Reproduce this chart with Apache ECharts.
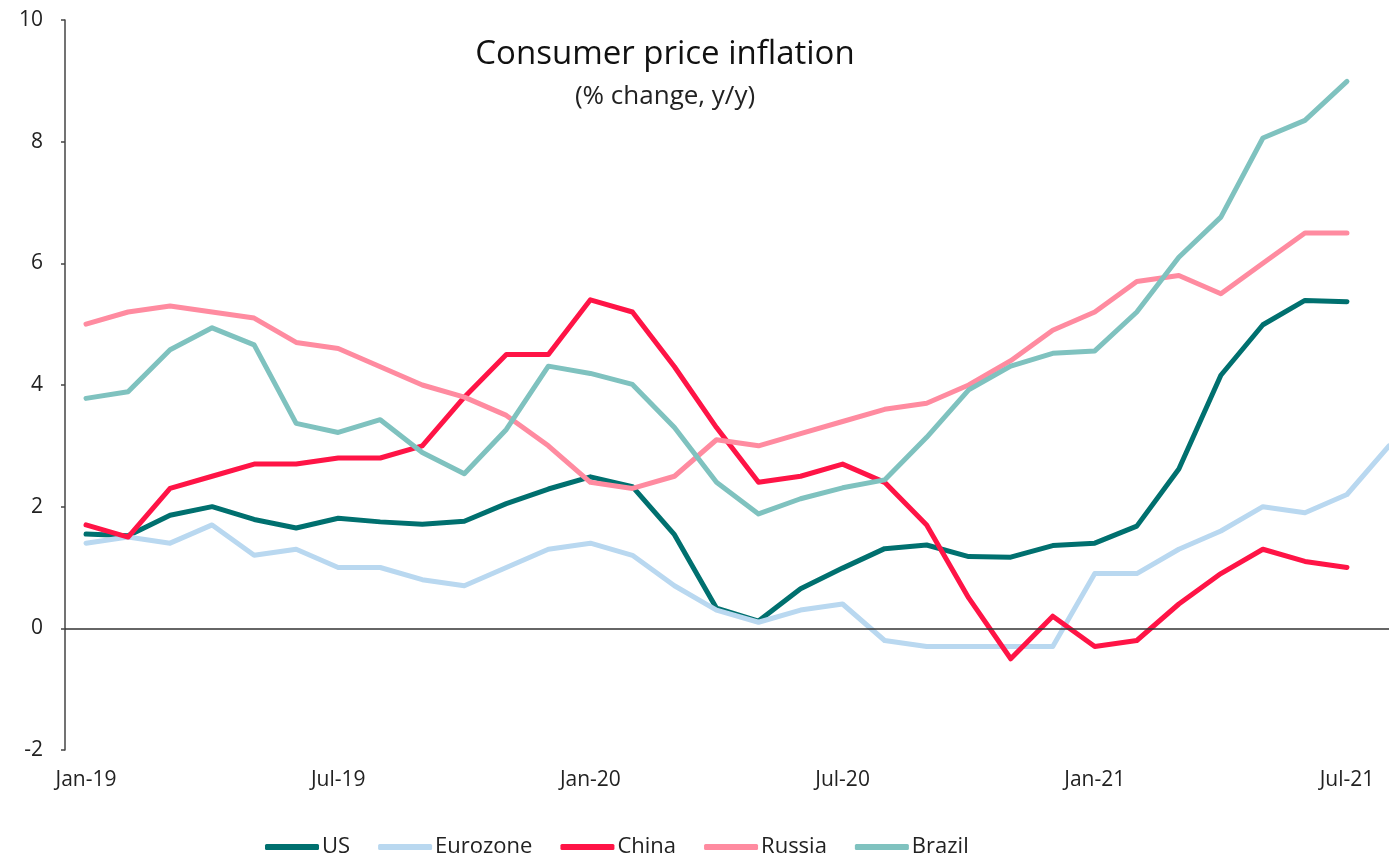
<!DOCTYPE html>
<html>
<head>
<meta charset="utf-8">
<script src="https://cdn.jsdelivr.net/npm/echarts@6/dist/echarts.min.js"></script>
<style>
  html, body { margin: 0; padding: 0; background: #fff; }
  #chart { width: 1389px; height: 857px; }
</style>
</head>
<body>
<div id="chart"></div>
<script>
// 月份（Jan-19 ~ Aug-21）
const months = [
  "Jan-19", "Feb-19", "Mar-19", "Apr-19", "May-19", "Jun-19",
  "Jul-19", "Aug-19", "Sep-19", "Oct-19", "Nov-19", "Dec-19",
  "Jan-20", "Feb-20", "Mar-20", "Apr-20", "May-20", "Jun-20",
  "Jul-20", "Aug-20", "Sep-20", "Oct-20", "Nov-20", "Dec-20",
  "Jan-21", "Feb-21", "Mar-21", "Apr-21", "May-21", "Jun-21",
  "Jul-21", "Aug-21"
];
// x轴显示的标签位置（每6个月）
const labelMonths = [0, 6, 12, 18, 24, 30];

const usData = [
  1.55, 1.52, 1.86, 2.0, 1.79, 1.65, 1.81, 1.75, 1.71, 1.76, 2.05, 2.29,
  2.49, 2.33, 1.54, 0.33, 0.12, 0.65, 0.99, 1.31, 1.37, 1.18, 1.17, 1.36,
  1.4, 1.68, 2.62, 4.16, 4.99, 5.39, 5.37, null
];
const eurozoneData = [
  1.4, 1.5, 1.4, 1.7, 1.2, 1.3, 1.0, 1.0, 0.8, 0.7, 1.0, 1.3,
  1.4, 1.2, 0.7, 0.3, 0.1, 0.3, 0.4, -0.2, -0.3, -0.3, -0.3, -0.3,
  0.9, 0.9, 1.3, 1.6, 2.0, 1.9, 2.2, 3.0
];
const chinaData = [
  1.7, 1.5, 2.3, 2.5, 2.7, 2.7, 2.8, 2.8, 3.0, 3.8, 4.5, 4.5,
  5.4, 5.2, 4.3, 3.3, 2.4, 2.5, 2.7, 2.4, 1.7, 0.5, -0.5, 0.2,
  -0.3, -0.2, 0.4, 0.9, 1.3, 1.1, 1.0, null
];
const russiaData = [
  5.0, 5.2, 5.3, 5.2, 5.1, 4.7, 4.6, 4.3, 4.0, 3.8, 3.5, 3.0,
  2.4, 2.3, 2.5, 3.1, 3.0, 3.2, 3.4, 3.6, 3.7, 4.0, 4.4, 4.9,
  5.2, 5.7, 5.8, 5.5, 6.0, 6.5, 6.5, null
];
const brazilData = [
  3.78, 3.89, 4.58, 4.94, 4.66, 3.37, 3.22, 3.43, 2.89, 2.54, 3.27, 4.31,
  4.19, 4.01, 3.3, 2.4, 1.88, 2.13, 2.31, 2.44, 3.14, 3.92, 4.31, 4.52,
  4.56, 5.2, 6.1, 6.76, 8.06, 8.35, 8.99, null
];

const seriesNames = ["US", "Eurozone", "China", "Russia", "Brazil"];
const seriesColors = ["#00706f", "#b9d8f0", "#ff1446", "#ff8ba0", "#7fc2bf"];
const seriesData = [usData, eurozoneData, chinaData, russiaData, brazilData];

const fontFamily = "'Open Sans', sans-serif";

let chart = echarts.init(document.getElementById("chart"), null, { renderer: "canvas" });

let series = [];
for (let i = 0; i < seriesNames.length; i++) {
  let s = {
    name: seriesNames[i],
    type: "line",
    // [月份序号, 数值]
    data: seriesData[i].map((v, j) => [j, v]),
    symbol: "none",
    smooth: false,
    lineStyle: {
      width: 5,
      color: seriesColors[i],
      cap: "round",
      join: "round"
    },
    itemStyle: { color: seriesColors[i] }
  };
  // 0 基准线
  if (i === 0) {
    s.markLine = {
      silent: true,
      symbol: "none",
      label: { show: false },
      lineStyle: { color: "#333", width: 1.5, type: "solid" },
      data: [{ yAxis: 0 }]
    };
  }
  series.push(s);
}

let option = {
  animation: false,
  title: {
    text: "Consumer price inflation",
    subtext: "(% change, y/y)",
    left: 660,
    top: 33,
    textAlign: "center",
    itemGap: 13,
    textStyle: {
      fontFamily: fontFamily,
      fontSize: 33,
      fontWeight: 500,
      color: "#111"
    },
    subtextStyle: {
      fontFamily: fontFamily,
      fontSize: 26,
      color: "#222"
    }
  },
  legend: {
    left: 260,
    top: 831,
    icon: "roundRect",
    itemWidth: 54,
    itemHeight: 6,
    itemGap: 28,
    textStyle: {
      fontFamily: fontFamily,
      fontSize: 22,
      color: "#222",
      padding: [0, 0, 0, -2]
    },
    data: seriesNames
  },
  grid: {
    left: 65,
    right: 0,
    top: 20,
    bottom: 107,
    containLabel: false
  },
  xAxis: {
    type: "value",
    min: -0.5,
    max: 31,
    axisLine: { show: false, onZero: false },
    axisTick: { show: false },
    splitLine: { show: false },
    axisLabel: {
      customValues: labelMonths,
      formatter: (value) => months[Math.round(value)],
      margin: 20,
      fontFamily: fontFamily,
      fontSize: 21,
      color: "#222"
    }
  },
  yAxis: {
    type: "value",
    min: -2,
    max: 10,
    interval: 2,
    axisLine: { show: true, onZero: false, lineStyle: { color: "#444", width: 1.5 } },
    axisTick: { show: true, length: 4, lineStyle: { color: "#444", width: 1.5 } },
    splitLine: { show: false },
    axisLabel: {
      margin: 22,
      fontFamily: fontFamily,
      fontSize: 21,
      color: "#222"
    }
  },
  series: series
};

chart.setOption(option);
</script>
</body>
</html>
